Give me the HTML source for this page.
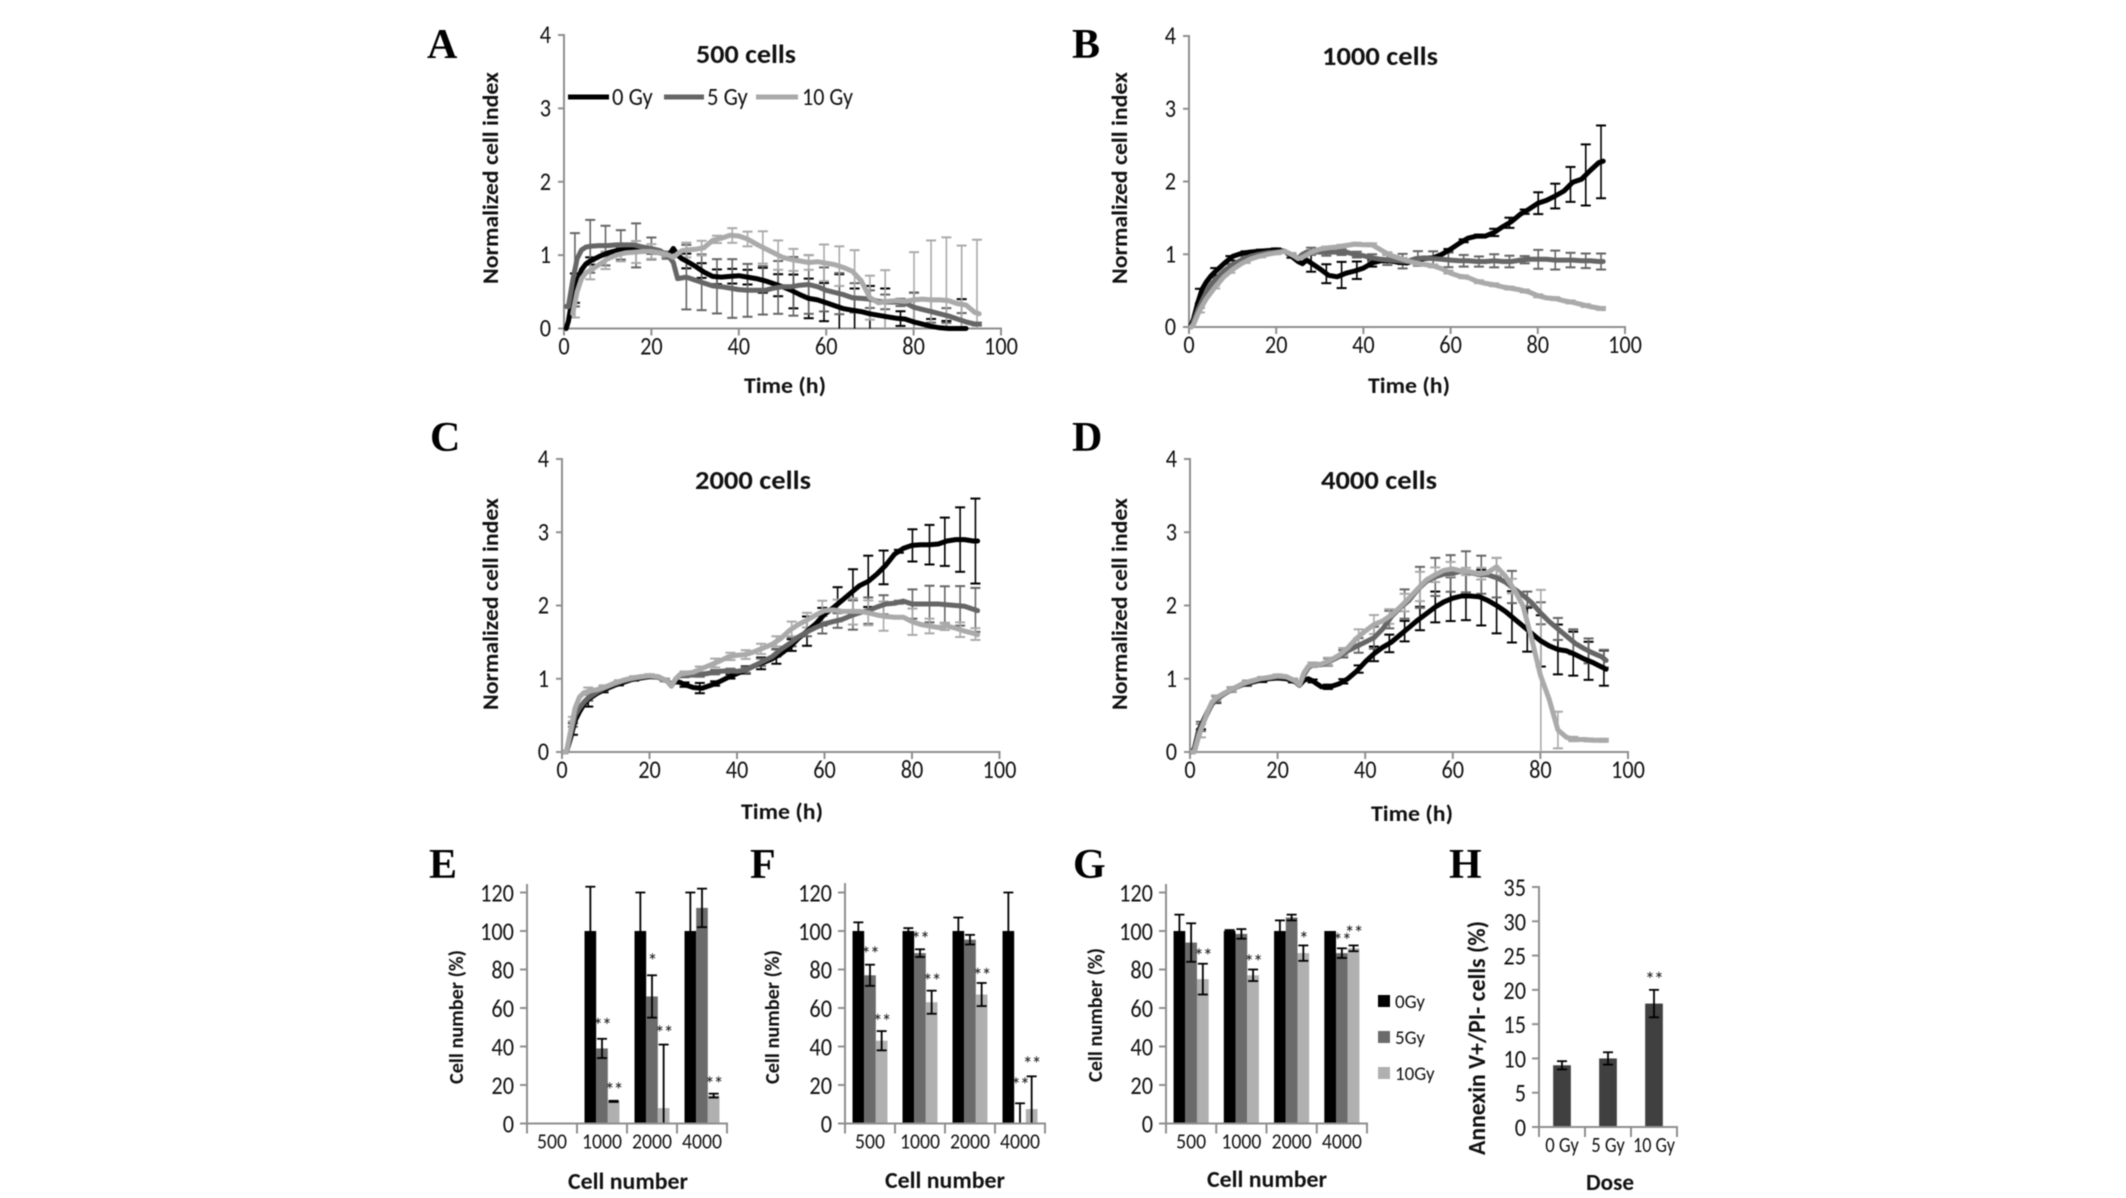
<!DOCTYPE html>
<html lang="en">
<head>
<meta charset="utf-8">
<title>Cell index and cell number after irradiation</title>
<style>
html,body{margin:0;padding:0;background:#fff;width:2126px;height:1198px;overflow:hidden}
svg{display:block;position:absolute;left:0;top:0;filter:blur(0.45px)}
text{font-family:"Carlito","Liberation Sans Narrow","Liberation Sans",sans-serif;fill:#111}
.serif{font-family:"Liberation Serif",serif;font-weight:bold;fill:#000}
</style>
</head>
<body>
<svg id="figure" xmlns="http://www.w3.org/2000/svg" width="2126" height="1198" viewBox="0 0 2126 1198"></svg>
<script>
// ---------- line chart data ----------
const hours = [0.5,1,2,3,4,5,6,8,10,12,14,16,18,20,22,24,25,26,27,28,30,32,34,36,38,40,42,44,46,48,50,52,54,56,58,60,62,64,66,68,70,72,74,76,78,80,82,84,86,88,90,92,94,95];
const errHours = [2.5,6,9.5,13,16.5,20,23.5,28,31.5,35,38.5,42,45.5,49,52.5,56,59.5,63,66.5,70,73.5,77,80.1,84,87.5,91,94.5];
const doseLabels = ['0 Gy','5 Gy','10 Gy'];
const xTicks = [0,20,40,60,80,100];
const yTicks = [0,1,2,3,4];

const a0 = [0,0.1,0.45,0.65,0.8,0.88,0.92,0.98,1.03,1.06,1.08,1.09,1.08,1.05,1.03,1.0,1.09,1.0,0.95,0.92,0.85,0.77,0.71,0.70,0.71,0.72,0.70,0.68,0.65,0.61,0.57,0.52,0.46,0.41,0.39,0.35,0.31,0.27,0.25,0.23,0.20,0.18,0.16,0.14,0.13,0.09,0.06,0.03,0.01,0,0,0,null,null];
const a5 = [0.3,0.3,0.65,0.95,1.07,1.11,1.12,1.13,1.13,1.14,1.14,1.14,1.11,1.09,1.06,0.98,0.9,0.68,0.69,0.70,0.66,0.62,0.58,0.57,0.55,0.53,0.52,0.52,0.52,0.55,0.57,0.57,0.59,0.60,0.57,0.52,0.49,0.46,0.42,0.41,0.40,0.37,0.36,0.36,0.35,0.29,0.26,0.23,0.2,0.17,0.13,0.09,0.06,0.06];
const a10 = [null,null,0.2,0.5,0.68,0.76,0.79,0.87,0.95,1.0,1.03,1.04,1.05,1.05,1.03,1.0,0.97,1.02,1.06,1.07,1.08,1.1,1.2,1.23,1.27,1.26,1.22,1.15,1.09,1.03,0.97,0.94,0.92,0.9,0.91,0.89,0.87,0.83,0.78,0.65,0.42,0.35,0.37,0.38,0.37,0.39,0.40,0.39,0.39,0.38,0.34,0.32,0.22,0.2];
const aErr0 = [0.2,0.05,0.03,0.03,0.03,0.03,0.03,0.1,0.1,0.1,0.1,0.1,0.17,0.15,0.23,0.27,0.26,0.45,0.3,0.38,0.38,0.1,0.4,0.1,0.1,0.4,0.4];
const aErr5 = [0.5,0.36,0.27,0.2,0.3,0.15,0.05,0.44,0.38,0.37,0.4,0.36,0.33,0.36,0.4,0.4,0.3,0.28,0.2,0.12,0.1,0.05,0.2,0.15,0.1,0.1,0.02];
const aErr10 = [0.2,0.12,0.12,0.1,0.15,0.1,0.03,0.1,0.1,0.05,0.1,0.1,0.22,0.2,0.15,0.1,0.25,0.27,0.32,0.3,0.43,0,0.65,0.81,0.86,0.8,1.0];

const b0 = [0.03,0.1,0.33,0.52,0.62,0.7,0.76,0.87,0.97,1.01,1.03,1.04,1.05,1.06,1.04,0.95,0.9,0.87,0.92,0.88,0.8,0.71,0.69,0.74,0.77,0.81,0.88,0.91,0.91,0.89,0.88,0.92,0.94,0.95,1.0,1.07,1.15,1.22,1.25,1.25,1.3,1.38,1.45,1.55,1.62,1.7,1.74,1.8,1.87,1.99,2.03,2.15,2.26,2.28];
const b5 = [0,0.06,0.23,0.36,0.48,0.58,0.65,0.77,0.86,0.92,0.97,1.0,1.02,1.03,1.04,0.98,0.94,1.0,1.03,1.04,1.03,1.03,1.03,1.03,1.0,0.98,0.95,0.93,0.92,0.91,0.9,0.94,0.95,0.94,0.93,0.92,0.91,0.91,0.9,0.9,0.91,0.9,0.9,0.92,0.93,0.93,0.93,0.92,0.92,0.92,0.91,0.91,0.9,0.9];
const b10 = [0,0.03,0.17,0.29,0.39,0.47,0.55,0.69,0.79,0.87,0.93,0.97,1.0,1.02,1.04,0.98,0.94,0.96,0.99,1.03,1.07,1.09,1.1,1.12,1.14,1.13,1.13,1.06,0.99,0.95,0.91,0.88,0.86,0.84,0.8,0.74,0.7,0.68,0.63,0.6,0.58,0.55,0.53,0.51,0.48,0.43,0.4,0.39,0.36,0.34,0.31,0.28,0.26,0.25];
const bErr0 = [0.1,0.05,0.03,0.02,0.02,0.02,0.02,0.12,0.13,0.18,0.12,0.05,0.02,0.02,0.02,0.02,0.02,0.02,0.02,0.05,0.07,0.03,0.15,0.17,0.24,0.42,0.5];
const bErr5 = [0.03,0.03,0.03,0.02,0.02,0.02,0.02,0.05,0.05,0.04,0.04,0.05,0.07,0.1,0.1,0.1,0.1,0.08,0.07,0.09,0.08,0.05,0.13,0.13,0.1,0.1,0.11];
const bErr10 = [0.03,0.02,0.02,0.02,0.02,0.02,0.02,0.02,0.02,0.02,0.02,0.02,0.02,0.02,0.02,0.02,0.02,0.02,0.02,0.02,0.02,0.02,0.02,0.02,0.02,0.02,0.02];

const c0 = [0,0,0.2,0.43,0.55,0.65,0.72,0.8,0.86,0.91,0.95,0.99,1.01,1.03,1.02,0.97,0.92,0.96,0.95,0.92,0.88,0.87,0.91,0.96,1.02,1.07,1.12,1.18,1.22,1.27,1.34,1.43,1.55,1.65,1.75,1.88,1.97,2.07,2.17,2.27,2.33,2.43,2.55,2.7,2.78,2.82,2.83,2.83,2.84,2.88,2.9,2.9,2.88,2.88];
const c5 = [0,0,0.25,0.5,0.6,0.68,0.74,0.82,0.88,0.93,0.97,1.0,1.02,1.04,1.02,0.97,0.9,1.0,1.05,1.05,1.05,1.06,1.08,1.1,1.11,1.1,1.12,1.18,1.24,1.3,1.4,1.48,1.57,1.64,1.7,1.75,1.78,1.81,1.86,1.9,1.93,1.98,2.02,2.03,2.06,2.02,2.02,2.02,2.02,2.01,2.0,1.99,1.95,1.93];
const c10 = [0,0,0.3,0.6,0.75,0.81,0.83,0.85,0.89,0.94,0.98,1.01,1.03,1.04,1.03,0.97,0.9,1.0,1.06,1.07,1.09,1.14,1.19,1.24,1.3,1.32,1.33,1.37,1.42,1.47,1.55,1.66,1.74,1.8,1.87,1.93,1.94,1.92,1.92,1.92,1.9,1.87,1.85,1.84,1.84,1.78,1.74,1.72,1.7,1.72,1.69,1.65,1.62,1.6];
const cErr0 = [0.08,0.1,0.03,0.02,0.02,0.02,0.02,0.03,0.07,0.03,0.03,0.05,0.08,0.1,0.08,0.2,0.12,0.23,0.3,0.35,0.23,0.02,0.22,0.27,0.33,0.44,0.58];
const cErr5 = [0.03,0.04,0.03,0.02,0.02,0.02,0.02,0.03,0.03,0.03,0.03,0.04,0.05,0.05,0.06,0.06,0.12,0.1,0.2,0.18,0.13,0.02,0.2,0.25,0.25,0.27,0.3];
const cErr10 = [0.03,0.05,0.03,0.02,0.02,0.02,0.02,0.03,0.04,0.06,0.05,0.06,0.07,0.07,0.1,0.1,0.15,0.15,0.18,0.17,0.2,0,0.18,0.1,0.05,0.1,0.08];

const d0 = [0,0.05,0.3,0.42,0.55,0.65,0.72,0.8,0.87,0.92,0.95,0.98,1.0,1.01,1.0,0.96,0.91,0.98,1.0,0.97,0.89,0.89,0.93,1.0,1.1,1.23,1.34,1.43,1.5,1.6,1.7,1.8,1.89,1.98,2.05,2.1,2.13,2.13,2.12,2.07,2.0,1.92,1.82,1.72,1.62,1.52,1.45,1.4,1.38,1.33,1.27,1.22,1.16,1.13];
const d5 = [0,0.03,0.27,0.4,0.53,0.65,0.72,0.8,0.87,0.93,0.96,1.0,1.01,1.03,1.02,0.97,0.91,1.05,1.15,1.19,1.19,1.24,1.3,1.38,1.44,1.5,1.56,1.68,1.85,1.97,2.07,2.22,2.33,2.39,2.43,2.44,2.47,2.45,2.42,2.42,2.38,2.32,2.23,2.14,2.04,1.9,1.78,1.68,1.58,1.48,1.41,1.35,1.3,1.25];
const d10 = [0,0,0.22,0.38,0.55,0.68,0.74,0.81,0.87,0.93,0.97,1.0,1.02,1.04,1.03,0.97,0.92,1.08,1.17,1.19,1.2,1.25,1.32,1.42,1.55,1.65,1.74,1.79,1.87,1.98,2.1,2.23,2.35,2.42,2.48,2.5,2.47,2.46,2.43,2.45,2.53,2.4,2.22,2.0,1.55,1.05,0.72,0.3,0.2,0.17,0.17,0.16,0.16,0.16];
const dErr0 = [0.05,0.05,0.03,0.03,0.03,0.02,0.02,0.02,0.03,0.03,0.05,0.1,0.12,0.14,0.16,0.21,0.3,0.33,0.38,0.38,0.35,0.3,0.35,0.34,0.3,0.26,0.24];
const dErr5 = [0.05,0.04,0.03,0.03,0.02,0.02,0.02,0.03,0.05,0.05,0.1,0.15,0.12,0.2,0.28,0.26,0.25,0.28,0.26,0.27,0.22,0.1,0.15,0.15,0.17,0.17,0.12];
const dErr10 = [0.1,0.03,0.03,0.02,0.02,0.02,0.02,0.03,0.05,0.05,0.1,0.13,0.1,0.12,0.2,0.1,0.1,0.05,0.08,0.12,0.1,0,1.18,0.25,0.03,0.02,0.02];

// ---------- bar chart data ----------
const cellGroups = ['500','1000','2000','4000'];
const barTicks = [0,20,40,60,80,100,120];
const annexinTicks = [0,5,10,15,20,25,30,35];
const eValues = [[null,null,null],[100,39,11.5],[100,66,8],[100,112,14.5]];
const eErrors = [[0,0,0],[23,5,0.3],[20,11,33],[20,10,1]];
const eStars = [[1,1,'**',52],[1,2,'**',18.5],[2,1,'*',85.5],[2,2,'**',48],[3,2,'**',21.5]];
const fValues = [[100,77,43],[100,88.5,63],[100,95.5,67],[100,0.5,7.5]];
const fErrors = [[4.5,5.5,5],[1.5,2,6],[7,2.5,6],[20,10,17]];
const fStars = [[0,1,'**',89],[0,2,'**',54],[1,1,'**',97],[1,2,'**',75],[2,2,'**',78],[3,1,'**',21],[3,2,'**',32]];
const gValues = [[100,94,75],[100,98.5,77],[100,107,88.5],[100,88.5,91]];
const gErrors = [[8.5,10,8],[0.5,2.5,3],[5.5,1.5,4],[0,2.5,1.5]];
const gStars = [[0,2,'**',88],[1,2,'**',85],[2,2,'*',97],[3,1,'**',96],[3,2,'**',100]];
const annexinDoses = ['0 Gy','5 Gy','10 Gy'];
const annexinValues = [9,10,18];
const annexinErrors = [0.6,0.9,2];

// ---------- drawing helpers ----------
const NS = 'http://www.w3.org/2000/svg';
const root = document.getElementById('figure');
const LINE = ['#000000','#666666','#aaaaaa'];
const FILL = ['#000000','#6b6b6b','#b0b0b0'];
const AXIS = '#8f8f8f';
const DIGIT_W = 11.3;

function rule(parent, x1, y1, x2, y2, color, w, name) {
  const el = document.createElementNS(NS, 'line');
  el.setAttribute('x1', x1); el.setAttribute('y1', y1);
  el.setAttribute('x2', x2); el.setAttribute('y2', y2);
  el.setAttribute('stroke', color); el.setAttribute('stroke-width', w);
  
  
  parent.appendChild(el);
  return el;
}
function label(parent, x, y, str, size, o, name) {
  const el = document.createElementNS(NS, 'text');
  el.textContent = str;
  el.setAttribute('x', x); el.setAttribute('y', y);
  el.setAttribute('font-size', size);
  el.setAttribute('text-anchor', o.anchor || 'middle');
  if (o.bold) el.setAttribute('font-weight', 'bold');
  if (o.cls) el.setAttribute('class', o.cls);
  if (o.spacing) el.setAttribute('letter-spacing', o.spacing);
  if (o.rotate) el.setAttribute('transform', 'rotate(-90 ' + x + ' ' + y + ')');
  if (o.len) { el.setAttribute('textLength', o.len); el.setAttribute('lengthAdjust', 'spacingAndGlyphs'); }
  
  
  parent.appendChild(el);
  return el;
}
function group(name) {
  const g = document.createElementNS(NS, 'g');
  
  
  root.appendChild(g);
  return g;
}
function interp(xs, ys, x) {
  for (let i = 0; i < xs.length - 1; i++) {
    if (x >= xs[i] && x <= xs[i + 1]) {
      if (ys[i] === null || ys[i + 1] === null) return ys[i] === null ? ys[i + 1] : ys[i];
      return ys[i] + (ys[i + 1] - ys[i]) * (x - xs[i]) / (xs[i + 1] - xs[i]);
    }
  }
  return null;
}

function linePanel(p) {
  const g = group('panel-' + p.id);
  const sx = v => p.x0 + (p.x1 - p.x0) * v / 100;
  const sy = v => p.y0 + (p.y4 - p.y0) * v / 4;
  label(g, p.letterX, p.letterY, p.letter, 42, {anchor:'start', cls:'serif'}, 'panel-letter-' + p.id);
  label(g, p.titleX, p.titleY, p.title, 26, {bold:true, len:p.titleLen}, 'panel-title-' + p.id);
  label(g, p.yTitleX, p.yTitleY, 'Normalized cell index', 22, {bold:true, rotate:true, len:212}, 'y-axis-title-' + p.id);
  label(g, p.xTitleX, p.xTitleY, 'Time (h)', 22, {bold:true, len:82}, 'x-axis-title-' + p.id);
  rule(g, p.x0, p.y4 - 1, p.x0, p.y0 + 7, AXIS, 2, 'y-axis-' + p.id);
  rule(g, p.x0 - 1, p.y0, p.x1 + 1, p.y0, AXIS, 2, 'x-axis-' + p.id);
  yTicks.forEach(t => {
    rule(g, p.x0 - 6, sy(t), p.x0, sy(t), AXIS, 2, 'y-tick-' + t);
    label(g, p.x0 - 13, sy(t) + 8, String(t), 26, {anchor:'end', len:DIGIT_W}, 'y-tick-label-' + t);
  });
  xTicks.forEach(t => {
    rule(g, sx(t), p.y0, sx(t), p.y0 + 7, AXIS, 2, 'x-tick-' + t);
    label(g, sx(t), p.y0 + 26, String(t), 26, {len:DIGIT_W * String(t).length}, 'x-tick-label-' + t);
  });
  const order = [0, 1, 2];
  order.forEach(s => {
    const eg = group('error-bars-' + p.id + '-' + doseLabels[s].replace(' ', ''));
    g.appendChild(eg);
    errHours.forEach((h, i) => {
      const m = interp(hours, p.series[s], h);
      const e = p.errs[s][i];
      if (m === null || !e) return;
      const hi = sy(m + e), lo = sy(Math.max(0, m - e));
      rule(eg, sx(h), hi, sx(h), lo, LINE[s], 1.6, 'error-bar');
      rule(eg, sx(h) - 5, hi, sx(h) + 5, hi, LINE[s], 2, 'error-cap-upper');
      if (m - e > 0) rule(eg, sx(h) - 5, lo, sx(h) + 5, lo, LINE[s], 2, 'error-cap-lower');
    });
  });
  order.forEach(s => {
    let d = '';
    p.series[s].forEach((v, i) => {
      if (v === null) return;
      d += (d ? 'L' : 'M') + sx(hours[i]).toFixed(1) + ' ' + sy(v).toFixed(1);
    });
    const path = document.createElementNS(NS, 'path');
    path.setAttribute('d', d);
    path.setAttribute('fill', 'none');
    path.setAttribute('stroke', LINE[s]);
    path.setAttribute('stroke-width', 5);
    path.setAttribute('stroke-linejoin', 'round');
    path.setAttribute('stroke-linecap', 'round');
    
    
    g.appendChild(path);
  });
}

function barPanel(p) {
  const g = group('panel-' + p.id);
  const n = p.cats.length;
  const gw = (p.x1 - p.x0) / n;
  const sy = v => p.y0 + (p.yT - p.y0) * v / p.maxV;
  label(g, p.letterX, p.letterY, p.letter, 42, {anchor:'start', cls:'serif'}, 'panel-letter-' + p.id);
  label(g, p.yTitleX, p.yTitleY, p.yTitle, p.yTitleSize || 20, {bold:true, rotate:true, len:p.yTitleLen}, 'y-axis-title-' + p.id);
  label(g, p.xTitleX, p.xTitleY, p.xTitle, 23, {bold:true, len:p.xTitleLen}, 'x-axis-title-' + p.id);
  p.values.forEach((row, c) => {
    const m = row.length;
    const bw = gw * p.barFrac;
    const start = p.x0 + gw * c + (gw - bw * m) / 2;
    row.forEach((v, s) => {
      if (v === null) return;
      const x = start + bw * s;
      const r = document.createElementNS(NS, 'rect');
      r.setAttribute('x', x); r.setAttribute('y', sy(v));
      r.setAttribute('width', bw); r.setAttribute('height', p.y0 - sy(v));
      r.setAttribute('fill', p.barColor || FILL[s]);
      
      
      g.appendChild(r);
      const e = p.errors[c][s];
      if (e) {
        const hi = sy(v + e), lo = sy(Math.max(0, v - e)), cx = x + bw / 2;
        rule(g, cx, hi, cx, lo, '#000', 1.8, 'error-bar');
        rule(g, cx - 5, hi, cx + 5, hi, '#000', 1.8, 'error-cap-upper');
        if (v - e > 0) rule(g, cx - 5, lo, cx + 5, lo, '#000', 1.8, 'error-cap-lower');
      }
    });
  });
  (p.stars || []).forEach(st => {
    const m = p.values[st[0]].length;
    const bw = gw * p.barFrac;
    const start = p.x0 + gw * st[0] + (gw - bw * m) / 2;
    label(g, start + bw * st[1] + bw / 2, sy(st[3]) + 9, st[2], 20, {spacing:-1}, 'significance-marker');
  });
  rule(g, p.x0, p.axisTop, p.x0, p.y0 + 1, AXIS, 2, 'y-axis-' + p.id);
  rule(g, p.x0 - 1, p.y0, p.x1 + 1, p.y0, AXIS, 2, 'x-axis-' + p.id);
  p.ticks.forEach(t => {
    rule(g, p.x0 - 7, sy(t), p.x0, sy(t), AXIS, 2, 'y-tick-' + t);
    label(g, p.x0 - 13, sy(t) + 9, String(t), 26, {anchor:'end', len:DIGIT_W * String(t).length}, 'y-tick-label-' + t);
  });
  for (let c = 0; c <= n; c++) {
    rule(g, p.x0 + gw * c, p.y0, p.x0 + gw * c, p.y0 + 10, AXIS, 2, 'x-tick-' + c);
  }
  p.cats.forEach((t, c) => {
    label(g, p.x0 + gw * (c + 0.5), p.y0 + 25, t, 22, {len:t.length * p.catCharW}, 'x-tick-label-' + t);
  });
}

linePanel({id:'a',letter:'A',letterX:427,letterY:58,title:'500 cells',titleX:746,titleY:63,titleLen:100,yTitleX:498,yTitleY:178,xTitleX:785,xTitleY:393,x0:564,x1:1001,y0:328.5,y4:35,series:[a0,a5,a10],errs:[aErr0,aErr5,aErr10]});
linePanel({id:'b',letter:'B',letterX:1072,letterY:58,title:'1000 cells',titleX:1380,titleY:65,titleLen:116,yTitleX:1127,yTitleY:178,xTitleX:1409,xTitleY:393,x0:1189,x1:1625,y0:327,y4:36,series:[b0,b5,b10],errs:[bErr0,bErr5,bErr10]});
linePanel({id:'c',letter:'C',letterX:430,letterY:451,title:'2000 cells',titleX:753,titleY:489,titleLen:116,yTitleX:498,yTitleY:604,xTitleX:782,xTitleY:819,x0:562,x1:999.5,y0:752,y4:459,series:[c0,c5,c10],errs:[cErr0,cErr5,cErr10]});
linePanel({id:'d',letter:'D',letterX:1072,letterY:451,title:'4000 cells',titleX:1379,titleY:489,titleLen:116,yTitleX:1127,yTitleY:604,xTitleX:1412,xTitleY:821,x0:1190,x1:1628,y0:752,y4:459,series:[d0,d5,d10],errs:[dErr0,dErr5,dErr10]});

// panel A line legend
(function () {
  const g = group('legend-line');
  const spots = [[568,609,612],[664,704,707],[756,798,802]];
  doseLabels.forEach((t, s) => {
    rule(g, spots[s][0], 97, spots[s][1], 97, LINE[s], 5, 'legend-line-' + s);
    label(g, spots[s][2], 105, t, 25, {anchor:'start', len:t.length * 10.2}, 'legend-label-' + s);
  });
})();

barPanel({id:'e',letter:'E',letterX:429,letterY:878,cats:cellGroups,catCharW:10,values:eValues,errors:eErrors,stars:eStars,ticks:barTicks,maxV:120,x0:527,x1:727,y0:1123.5,yT:892.5,axisTop:884,barFrac:0.233,yTitle:'Cell number (%)',yTitleX:463,yTitleY:1017,yTitleLen:134,xTitle:'Cell number',xTitleX:628,xTitleY:1189,xTitleLen:120});
barPanel({id:'f',letter:'F',letterX:750,letterY:878,cats:cellGroups,catCharW:10,values:fValues,errors:fErrors,stars:fStars,ticks:barTicks,maxV:120,x0:845,x1:1045,y0:1123.5,yT:892.5,axisTop:883,barFrac:0.233,yTitle:'Cell number (%)',yTitleX:779,yTitleY:1017,yTitleLen:134,xTitle:'Cell number',xTitleX:945,xTitleY:1188,xTitleLen:120});
barPanel({id:'g',letter:'G',letterX:1073,letterY:878,cats:cellGroups,catCharW:10,values:gValues,errors:gErrors,stars:gStars,ticks:barTicks,maxV:120,x0:1166,x1:1367,y0:1123.5,yT:892.5,axisTop:884,barFrac:0.233,yTitle:'Cell number (%)',yTitleX:1102,yTitleY:1015,yTitleLen:134,xTitle:'Cell number',xTitleX:1267,xTitleY:1187,xTitleLen:120});
barPanel({id:'h',letter:'H',letterX:1449,letterY:878,cats:annexinDoses,catCharW:8.4,values:annexinValues.map(v => [v]),errors:annexinErrors.map(v => [v]),stars:[[2,0,'**',21.8]],ticks:annexinTicks,maxV:35,x0:1539,x1:1677,y0:1127,yT:887,axisTop:886,barFrac:0.385,barColor:'#404040',yTitle:'Annexin V+/PI- cells (%)',yTitleX:1485,yTitleY:1038,yTitleLen:234,yTitleSize:24,xTitle:'Dose',xTitleX:1610,xTitleY:1190,xTitleLen:48});

// panel G swatch legend
(function () {
  const g = group('legend-swatches');
  const names = ['0Gy','5Gy','10Gy'];
  const rows = [1001,1037,1073];
  names.forEach((t, s) => {
    const r = document.createElementNS(NS, 'rect');
    r.setAttribute('x', 1378); r.setAttribute('y', rows[s] - 6);
    r.setAttribute('width', 12); r.setAttribute('height', 12);
    r.setAttribute('fill', FILL[s]);
    
    
    g.appendChild(r);
    label(g, 1395, rows[s] + 7, t, 19, {anchor:'start'}, 'legend-label-' + t);
  });
})();
</script>
</body>
</html>
